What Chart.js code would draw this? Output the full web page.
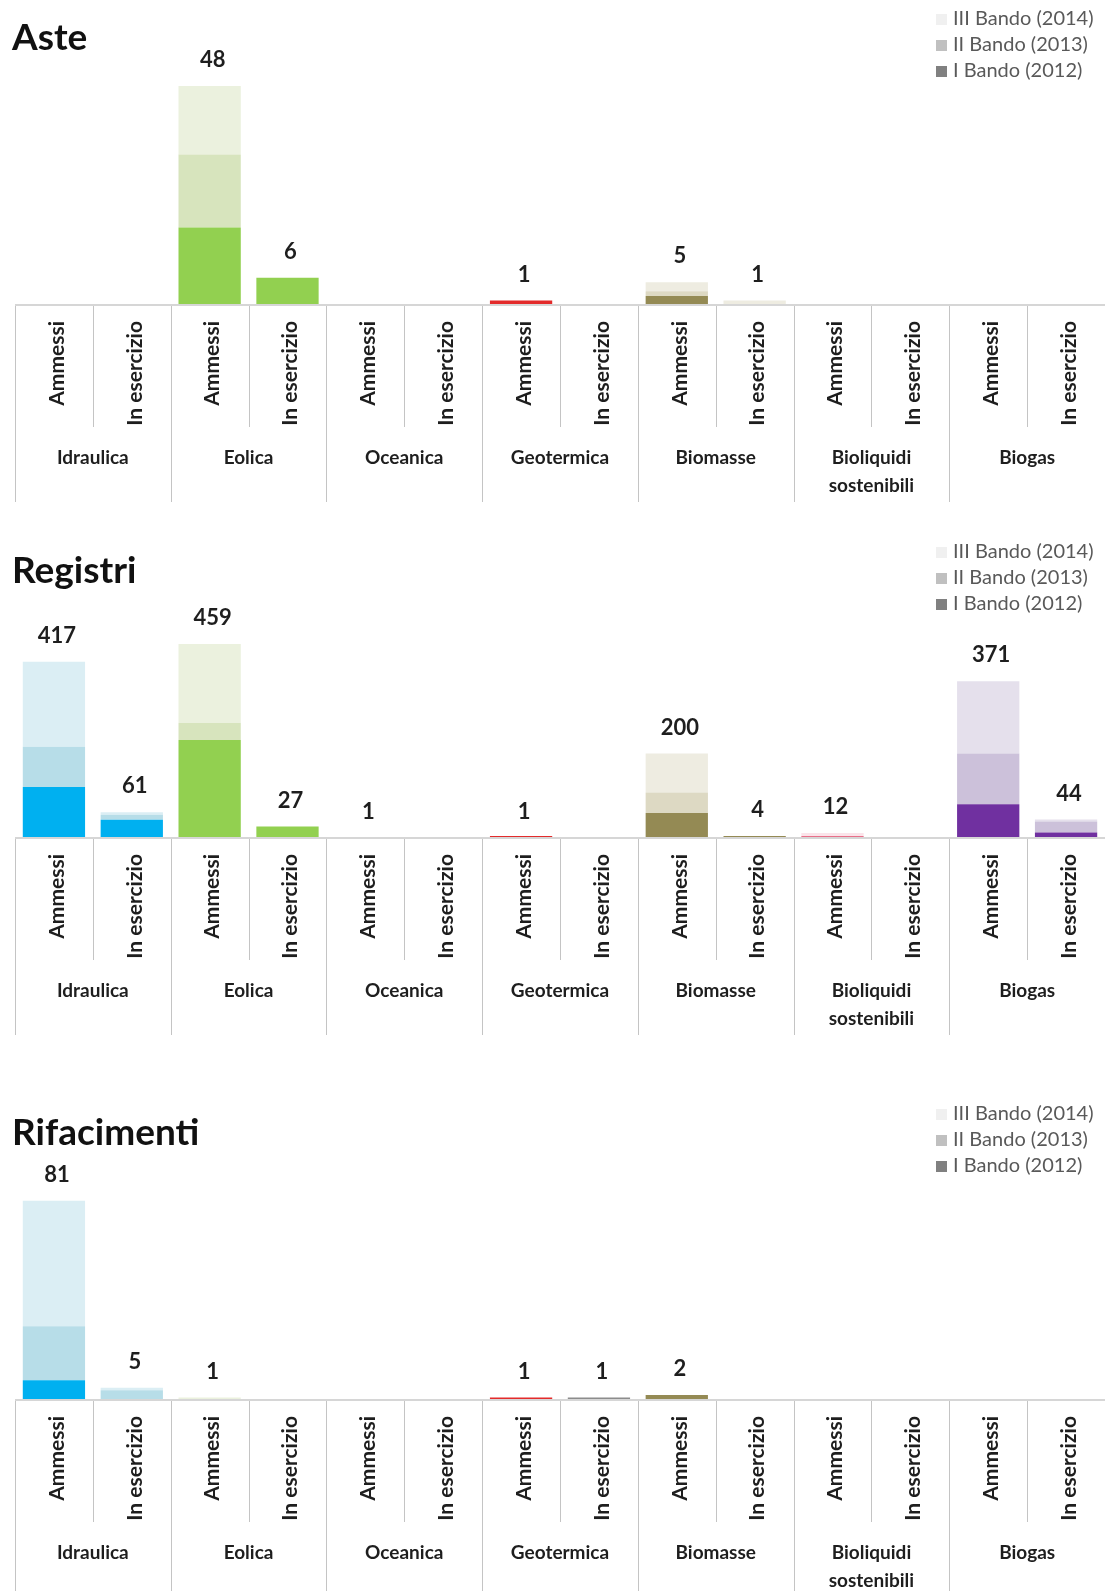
<!DOCTYPE html>
<html>
<head>
<meta charset="utf-8">
<title>Aste, Registri, Rifacimenti</title>
<script src="https://cdn.jsdelivr.net/npm/chart.js@4.4.1/dist/chart.umd.min.js"></script>
<style>
  body { margin: 0; background: #ffffff; }
  .block { position: absolute; left: 0; width: 1105px; }
  canvas { display: block; }
</style>
</head>
<body>
<div class="block" style="top:0px;height:533px"><canvas id="chart_aste" width="1105" height="533"></canvas></div>
<div class="block" style="top:533px;height:562px"><canvas id="chart_registri" width="1105" height="562"></canvas></div>
<div class="block" style="top:1095px;height:496px"><canvas id="chart_rifacimenti" width="1105" height="496"></canvas></div>
<script>
// x axis: two bars per source
const subLabels = ['Ammessi', 'In esercizio', 'Ammessi', 'In esercizio', 'Ammessi', 'In esercizio',
    'Ammessi', 'In esercizio', 'Ammessi', 'In esercizio', 'Ammessi', 'In esercizio', 'Ammessi', 'In esercizio'];
const groupLabels = [['Idraulica'], ['Eolica'], ['Oceanica'], ['Geotermica'], ['Biomasse'], ['Bioliquidi', 'sostenibili'], ['Biogas']];
const bandoLabels = ['I Bando (2012)', 'II Bando (2013)', 'III Bando (2014)'];

// Aste
const asteBando1 = [0, 0, 17, 6, 0, 0, 1, 0, 2, 0, 0, 0, 0, 0];
const asteBando2 = [0, 0, 16, 0, 0, 0, 0, 0, 1, 0, 0, 0, 0, 0];
const asteBando3 = [0, 0, 15, 0, 0, 0, 0, 0, 2, 1, 0, 0, 0, 0];

// Registri
const registriBando1 = [121, 43, 232, 27, 0, 0, 1, 0, 59, 4, 5, 0, 80, 13];
const registriBando2 = [95, 12, 40, 0, 0, 0, 0, 0, 49, 0, 0, 0, 120, 26];
const registriBando3 = [201, 6, 187, 0, 1, 0, 0, 0, 92, 0, 7, 0, 171, 5];

// Rifacimenti
const rifacimentiBando1 = [8, 0, 0, 0, 0, 0, 1, 1, 2, 0, 0, 0, 0, 0];
const rifacimentiBando2 = [22, 4, 0, 0, 0, 0, 0, 0, 0, 0, 0, 0, 0, 0];
const rifacimentiBando3 = [51, 1, 1, 0, 0, 0, 0, 0, 0, 0, 0, 0, 0, 0];

// colours per source, darkest for I Bando
const bando1Colors = ['#00b0f0', '#00b0f0', '#92d050', '#92d050', '#1f497d', '#1f497d', '#e32b2b', '#8c8c8c',
    '#948a54', '#948a54', '#e8708a', '#e8708a', '#7030a0', '#7030a0'];
const bando2Colors = ['#b7dde8', '#b7dde8', '#d7e4bd', '#d7e4bd', '#8eb4e3', '#8eb4e3', '#f2a0a0', '#f2a0a0',
    '#ddd9c3', '#ddd9c3', '#f4b6c6', '#f4b6c6', '#ccc1da', '#ccc1da'];
const bando3Colors = ['#dbeef4', '#dbeef4', '#ebf1de', '#ebf1de', '#dce6f2', '#dce6f2', '#fadcdc', '#fadcdc',
    '#eeece1', '#eeece1', '#fbe4ea', '#fbe4ea', '#e5e0ec', '#e5e0ec'];
const legendColors = ['#808080', '#c0c0c0', '#f0f0f0'];

const fontName = 'Lato, "Noto Sans", sans-serif';

//plugin for title, legend, totals and the two level axis
const decorations = {
    id: 'decorations',
    afterDraw(chart, args, opts) {
        const ctx = chart.ctx;
        const xs = chart.scales.x;
        const ys = chart.scales.y;
        const base = Math.round(ys.getPixelForValue(0));
        const w = xs.getPixelForValue(1) - xs.getPixelForValue(0);
        const left = xs.getPixelForValue(0) - w / 2;
        ctx.save();

        // totals over the bars
        ctx.fillStyle = '#1e1e1e';
        ctx.font = 'bold 22px ' + fontName;
        ctx.textAlign = 'center';
        ctx.textBaseline = 'middle';
        subLabels.forEach((lab, i) => {
            let total = 0;
            chart.data.datasets.forEach(ds => { total += ds.data[i] || 0; });
            if (total > 0) {
                ctx.fillText(String(total), xs.getPixelForValue(i) + 3, ys.getPixelForValue(total) - 26);
            }
        });

        // axis line and separators
        ctx.strokeStyle = '#c4c4c4';
        ctx.lineWidth = 1;
        for (let k = 0; k <= subLabels.length; k++) {
            const x = Math.round(left + k * w) + 0.5;
            const len = k % 2 === 0 ? 197 : 122;
            ctx.beginPath();
            ctx.moveTo(x, base);
            ctx.lineTo(x, base + len);
            ctx.stroke();
        }
        ctx.strokeStyle = '#d6d6d6';
        ctx.lineWidth = 2;
        ctx.beginPath();
        ctx.moveTo(left, base);
        ctx.lineTo(chart.width, base);
        ctx.stroke();

        // rotated bar labels
        ctx.fillStyle = '#1e1e1e';
        ctx.font = 'bold 21px ' + fontName;
        ctx.textAlign = 'right';
        ctx.textBaseline = 'middle';
        subLabels.forEach((lab, i) => {
            ctx.save();
            ctx.translate(xs.getPixelForValue(i) + 3, base + 16);
            ctx.rotate(-Math.PI / 2);
            ctx.fillText(lab, 0, 0);
            ctx.restore();
        });

        // group labels
        ctx.font = 'bold 19px ' + fontName;
        ctx.textAlign = 'center';
        groupLabels.forEach((lines, g) => {
            const cx = left + (2 * g + 1) * w;
            lines.forEach((line, j) => {
                ctx.fillText(line, cx, base + 153 + j * 28);
            });
        });

        // title
        ctx.fillStyle = '#111111';
        ctx.font = 'bold 37px ' + fontName;
        ctx.textAlign = 'left';
        ctx.textBaseline = 'alphabetic';
        ctx.fillText(opts.title, 12, 50);

        // legend, newest bando on top
        ctx.font = '20px ' + fontName;
        ctx.textBaseline = 'middle';
        for (let r = 0; r < 3; r++) {
            const b = 2 - r;
            const y = 19 + r * 26;
            ctx.fillStyle = legendColors[b];
            ctx.fillRect(936, y - 5, 11, 11);
            ctx.fillStyle = '#595959';
            ctx.fillText(bandoLabels[b], 953, y);
        }
        ctx.restore();
    }
};

function drawChart(canvasId, title, bando1, bando2, bando3, yMax) {
    const canvas = document.getElementById(canvasId);
    const ctx = canvas.getContext('2d');
    const base = 305;
    const sets = [bando1, bando2, bando3];
    const colors = [bando1Colors, bando2Colors, bando3Colors];

    return new Chart(ctx, {
        type: 'bar',
        data: {
            labels: subLabels,
            datasets: sets.map((vals, k) => ({
                label: bandoLabels[k],
                data: vals.map(v => v === 0 ? null : v),
                backgroundColor: colors[k],
                borderWidth: 0,
                minBarLength: k === 0 ? 2 : undefined,
                barPercentage: 0.8,
                categoryPercentage: 1.0
            }))
        },
        options: {
            responsive: false,
            animation: false,
            devicePixelRatio: 1,
            layout: { padding: { left: 15, right: 0, top: 0, bottom: canvas.height - base } },
            scales: {
                x: { stacked: true, display: false },
                y: { stacked: true, display: false, min: 0, max: yMax }
            },
            plugins: {
                legend: { display: false },
                tooltip: { enabled: false },
                decorations: { title: title }
            }
        },
        plugins: [decorations]
    });
}

drawChart('chart_aste', 'Aste', asteBando1, asteBando2, asteBando3, 66.85);
drawChart('chart_registri', 'Registri', registriBando1, registriBando2, registriBando3, 722);
drawChart('chart_rifacimenti', 'Rifacimenti', rifacimentiBando1, rifacimentiBando2, rifacimentiBando3, 124);
</script>
</body>
</html>
